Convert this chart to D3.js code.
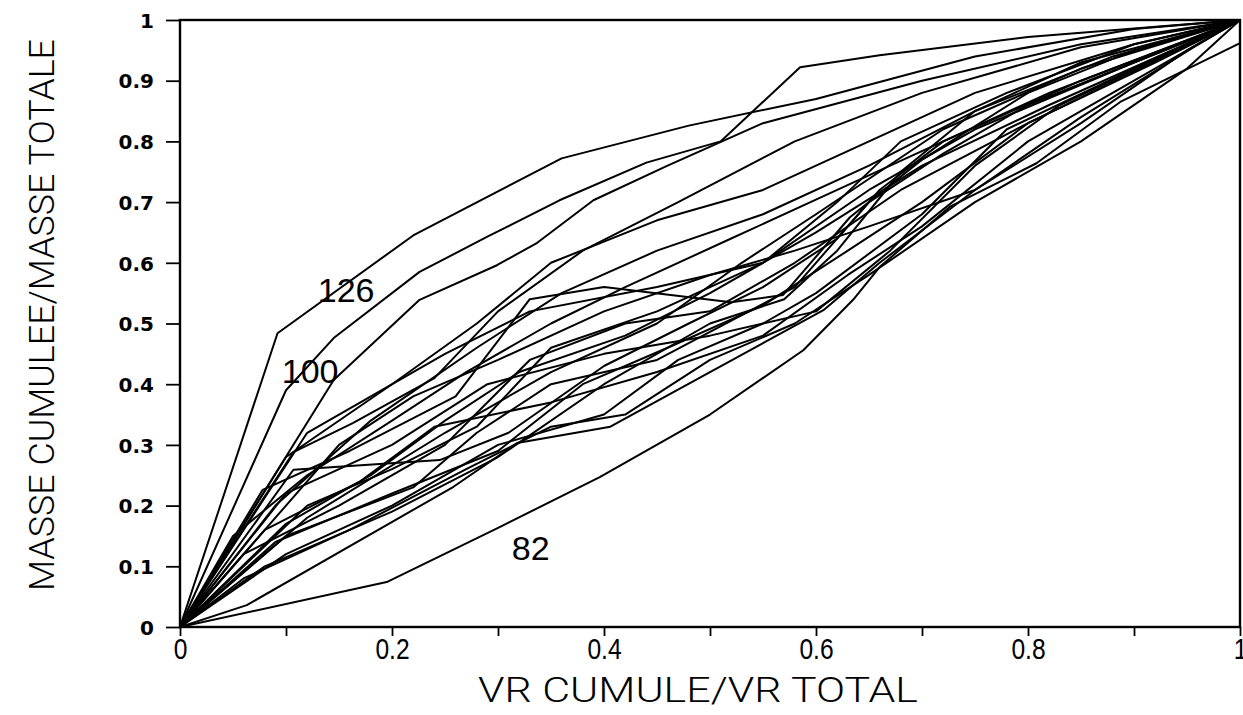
<!DOCTYPE html>
<html><head><meta charset="utf-8">
<script src="https://cdn.jsdelivr.net/npm/d3@7"></script>
<style>
body{margin:0;background:#fff;}
svg{display:block;}
</style></head>
<body><svg id="c" width="1243" height="715"></svg>
<script>
const xTicks=[0,0.1,0.2,0.3,0.4,0.5,0.6,0.7,0.8,0.9,1];
const xTickLabels=["0","","0.2","","0.4","","0.6","","0.8","","1"];
const yTicks=[0,0.1,0.2,0.3,0.4,0.5,0.6,0.7,0.8,0.9,1];
const yTickLabels=["0","0.1","0.2","0.3","0.4","0.5","0.6","0.7","0.8","0.9","1"];
const xTitle="VR CUMULE/VR TOTAL";
const yTitle="MASSE CUMULEE/MASSE TOTALE";

// Curves: [x,y] vertices
const c126=[[0,0],[0.092,0.484],[0.22,0.645],[0.36,0.772],[0.48,0.826],[0.6,0.87],[0.75,0.94],[0.9,0.985],[1,1]];
const c100=[[0,0],[0.1,0.39],[0.145,0.476],[0.226,0.585],[0.29,0.643],[0.358,0.703],[0.44,0.765],[0.51,0.8],[0.585,0.922],[0.66,0.942],[0.8,0.972],[1,1]];
const c82=[[0,0],[0.195,0.074],[0.302,0.165],[0.396,0.247],[0.5,0.35],[0.588,0.456],[0.635,0.539],[0.66,0.593],[0.726,0.692],[0.808,0.764],[0.887,0.865],[1,0.962]];
const c03=[[0,0],[0.145,0.407],[0.226,0.539],[0.299,0.596],[0.337,0.633],[0.39,0.703],[0.46,0.76],[0.55,0.83],[0.7,0.9],[0.85,0.96],[1,1]];
const c04=[[0,0],[0.107,0.288],[0.163,0.336],[0.24,0.41],[0.3,0.52],[0.38,0.62],[0.47,0.7],[0.58,0.8],[0.7,0.88],[0.85,0.955],[1,1]];
const c05=[[0,0],[0.107,0.259],[0.245,0.275],[0.31,0.32],[0.4,0.43],[0.48,0.5],[0.55,0.56],[0.62,0.64],[0.66,0.72],[0.72,0.8],[0.82,0.88],[1,1]];
const c06=[[0,0],[0.078,0.226],[0.16,0.29],[0.26,0.38],[0.33,0.54],[0.4,0.56],[0.52,0.535],[0.569,0.547],[0.632,0.675],[0.7,0.77],[0.8,0.88],[0.9,0.95],[1,1]];
const c07=[[0,0],[0.12,0.2],[0.2,0.26],[0.28,0.33],[0.35,0.46],[0.45,0.52],[0.55,0.6],[0.65,0.72],[0.75,0.82],[0.9,0.93],[1,1]];
const c08=[[0,0],[0.1,0.17],[0.18,0.25],[0.25,0.34],[0.32,0.42],[0.42,0.48],[0.5,0.55],[0.6,0.65],[0.7,0.76],[0.82,0.86],[1,1]];
const c09=[[0,0],[0.09,0.14],[0.2,0.22],[0.3,0.29],[0.38,0.4],[0.46,0.46],[0.55,0.53],[0.63,0.62],[0.7,0.7],[0.8,0.83],[0.92,0.93],[1,1]];
const c10=[[0,0],[0.063,0.036],[0.258,0.231],[0.318,0.303],[0.406,0.33],[0.5,0.42],[0.607,0.522],[0.66,0.6],[0.75,0.72],[0.85,0.84],[0.956,0.955],[1,1]];
const c12=[[0,0],[0.1,0.12],[0.2,0.2],[0.3,0.3],[0.4,0.35],[0.47,0.44],[0.55,0.5],[0.6,0.55],[0.7,0.68],[0.78,0.82],[0.9,0.92],[1,1]];
const c13=[[0,0],[0.1,0.15],[0.22,0.23],[0.28,0.32],[0.35,0.4],[0.45,0.44],[0.58,0.56],[0.65,0.7],[0.72,0.78],[0.8,0.86],[1,1]];
const c14=[[0,0],[0.12,0.18],[0.25,0.32],[0.35,0.42],[0.45,0.5],[0.53,0.6],[0.6,0.68],[0.72,0.82],[0.85,0.92],[1,1]];
const c15=[[0,0],[0.08,0.16],[0.17,0.24],[0.24,0.33],[0.35,0.37],[0.45,0.42],[0.55,0.48],[0.63,0.58],[0.7,0.66],[0.8,0.8],[0.9,0.9],[1,1]];
const c16=[[0,0],[0.06,0.12],[0.15,0.2],[0.25,0.3],[0.33,0.44],[0.42,0.5],[0.5,0.52],[0.58,0.6],[0.68,0.72],[0.8,0.83],[1,1]];
const c17=[[0,0],[0.1,0.22],[0.2,0.3],[0.29,0.4],[0.4,0.45],[0.5,0.48],[0.6,0.52],[0.67,0.62],[0.75,0.76],[0.83,0.86],[1,1]];
const c18=[[0,0],[0.15,0.3],[0.22,0.38],[0.3,0.44],[0.4,0.52],[0.5,0.58],[0.58,0.62],[0.65,0.66],[0.75,0.72],[0.85,0.83],[0.95,0.95],[1,1]];
const c19=[[0,0],[0.05,0.15],[0.12,0.25],[0.2,0.34],[0.27,0.42],[0.35,0.5],[0.42,0.56],[0.52,0.64],[0.62,0.72],[0.72,0.8],[0.85,0.9],[1,1]];
const c20=[[0,0],[0.09,0.2],[0.18,0.34],[0.28,0.46],[0.36,0.55],[0.45,0.62],[0.55,0.68],[0.65,0.76],[0.75,0.85],[0.88,0.94],[1,1]];
const c21=[[0,0],[0.08,0.1],[0.2,0.19],[0.3,0.28],[0.4,0.4],[0.5,0.5],[0.57,0.54],[0.62,0.62],[0.68,0.75],[0.75,0.85],[0.85,0.93],[1,1]];
const c22=[[0,0],[0.06,0.08],[0.16,0.16],[0.27,0.26],[0.35,0.33],[0.42,0.35],[0.5,0.44],[0.58,0.5],[0.65,0.58],[0.75,0.7],[0.85,0.8],[0.95,0.92],[1,1]];
const c23=[[0,0],[0.1,0.28],[0.2,0.4],[0.28,0.5],[0.35,0.6],[0.45,0.67],[0.55,0.72],[0.65,0.8],[0.75,0.88],[0.9,0.96],[1,1]];
const c24=[[0,0],[0.12,0.32],[0.25,0.45],[0.33,0.52],[0.45,0.56],[0.55,0.6],[0.62,0.7],[0.68,0.8],[0.78,0.88],[0.9,0.96],[1,1]];
const curves=[c126,c100,c82,c03,c04,c05,c06,c07,c08,c09,c10,c12,c13,c14,c15,c16,c17,c18,c19,c20,c21,c22,c23,c24];

const curveLabels=[{text:"126",x:0.13,y:0.535},{text:"100",x:0.096,y:0.402},{text:"82",x:0.313,y:0.11}];

const svg=d3.select("#c");
const M={l:180,r:1240,t:20,b:627};
const x=d3.scaleLinear().domain([0,1]).range([M.l,M.r]);
const y=d3.scaleLinear().domain([0,1]).range([M.b,M.t]);

svg.append("clipPath").attr("id","clip").append("rect")
  .attr("x",M.l).attr("y",M.t-2).attr("width",M.r-M.l+2).attr("height",M.b-M.t+4);

const line=d3.line().x(d=>x(d[0])).y(d=>y(d[1]));
svg.append("g").attr("clip-path","url(#clip)").selectAll("path").data(curves).join("path")
  .attr("d",line).attr("fill","none").attr("stroke","#000").attr("stroke-width",2)
  .attr("stroke-linejoin","round");

// frame
svg.append("rect").attr("x",M.l).attr("y",M.t).attr("width",M.r-M.l).attr("height",M.b-M.t)
  .attr("fill","none").attr("stroke","#000").attr("stroke-width",2.4);

const xa=svg.append("g").attr("transform",`translate(0,${M.b})`)
  .call(d3.axisBottom(x).tickValues(xTicks).tickFormat((d,i)=>xTickLabels[i]).tickSize(9).tickPadding(2));
const ya=svg.append("g").attr("transform",`translate(${M.l},0)`)
  .call(d3.axisLeft(y).tickValues(yTicks).tickFormat((d,i)=>yTickLabels[i]).tickSize(14).tickPadding(12));
[xa,ya].forEach(a=>{a.attr("font-size",null).attr("font-family",null);a.select(".domain").remove();
  a.selectAll("line").attr("stroke","#000").attr("stroke-width",1.8);
  a.selectAll("text").attr("fill","#000");});
ya.selectAll("text").attr("font-family","DejaVu Sans, sans-serif").attr("font-size",20).attr("font-weight","bold").attr("dy","0.36em");
xa.selectAll("text").attr("font-family","Liberation Sans, Arial, sans-serif").attr("font-size",30).attr("transform","scale(0.82,1)");

svg.append("text").attr("x",698).attr("y",702).attr("text-anchor","middle")
  .attr("textLength",440).attr("lengthAdjust","spacingAndGlyphs")
  .style("font-family","Roboto,'Liberation Sans',sans-serif").style("font-weight","300")
  .style("font-size","35px").text(xTitle);
svg.append("text").attr("transform","translate(54,315) rotate(-90)").attr("text-anchor","middle")
  .attr("textLength",552).attr("lengthAdjust","spacingAndGlyphs")
  .style("font-family","Roboto,'Liberation Sans',sans-serif").style("font-weight","300")
  .style("font-size","35px").text(yTitle);

svg.selectAll(".clab").data(curveLabels).join("text").attr("class","clab")
  .attr("x",d=>x(d.x)).attr("y",d=>y(d.y))
  .style("font-family","'Liberation Sans',Arial,sans-serif").style("font-size","34px")
  .text(d=>d.text);
</script></body></html>
